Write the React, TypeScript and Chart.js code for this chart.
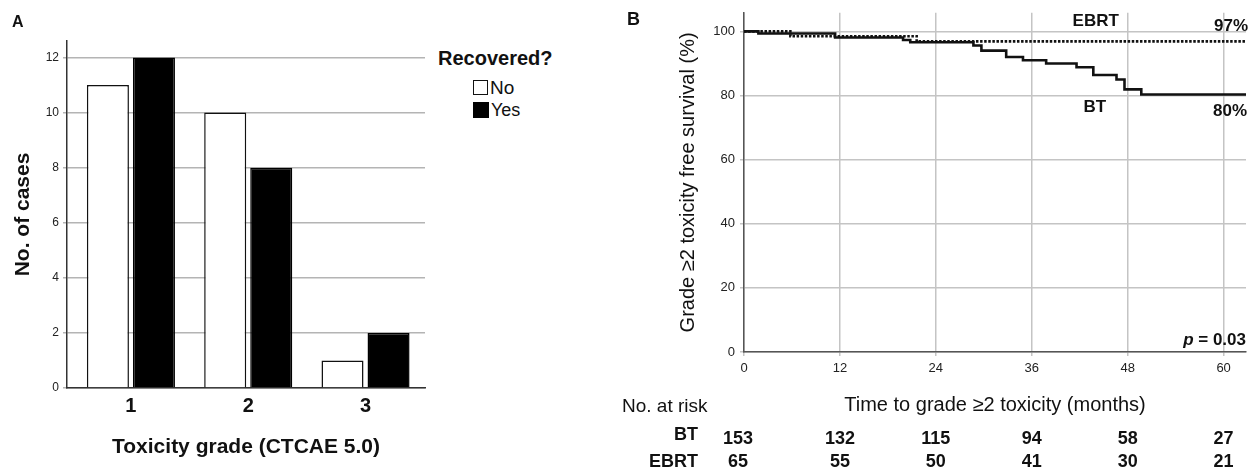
import React, { useEffect, useRef } from "react";
import { Chart, registerables } from "chart.js";

Chart.register(...registerables);

const FONT = '"Liberation Sans", Arial, Helvetica, sans-serif';

// ---------- Panel A data ----------
const gradeCategories = [1, 2, 3];
const notRecoveredCounts = [11, 10, 1];
const recoveredCounts = [12, 8, 2];
const countTicks = [0, 2, 4, 6, 8, 10, 12];

// ---------- Panel B data ----------
const btMonths = [0, 1.8, 11.4, 19.9, 20.8, 28.7, 29.7, 32.8, 34.9, 37.8, 41.6, 43.7, 46.6, 47.6, 49.7, 62.8];
const btSurvival = [100, 99.35, 98.1, 97.3, 96.6, 95.6, 94.0, 92.0, 91.0, 90.0, 88.8, 86.4, 85.0, 81.9, 80.3, 80.3];
const ebrtMonths = [0, 5.8, 21.6, 62.8];
const ebrtSurvival = [100, 98.5, 96.9, 96.9];
const monthTicks = [0, 12, 24, 36, 48, 60];
const survivalTicks = [0, 20, 40, 60, 80, 100];
const riskBT = [153, 132, 115, 94, 58, 27];
const riskEBRT = [65, 55, 50, 41, 30, 21];

type TextProps = {
  text: React.ReactNode;
  x: number;
  cy: number;
  size: number;
  weight?: string;
  align?: "left" | "right" | "center";
};

function Txt({ text, x, cy, size, weight = "normal", align = "left" }: TextProps) {
  const style: React.CSSProperties = {
    position: "absolute",
    top: cy - size * 0.6,
    fontFamily: FONT,
    fontSize: size,
    fontWeight: weight as any,
    lineHeight: 1.2,
    whiteSpace: "nowrap",
    color: "#111",
  };
  if (align === "left") style.left = x;
  else if (align === "right") style.right = 1250 - x;
  else {
    style.left = x;
    style.transform = "translateX(-50%)";
  }
  return <div style={style}>{text}</div>;
}

function BarPanel() {
  const ref = useRef<HTMLCanvasElement>(null);
  useEffect(() => {
    const chart = new Chart(ref.current as HTMLCanvasElement, {
      type: "bar",
      data: {
        datasets: [
          {
            label: "No",
            data: gradeCategories.map((g, i) => ({ x: g, y: notRecoveredCounts[i] })),
            backgroundColor: "#ffffff",
            borderColor: "#111111",
            borderWidth: 1.5,
            categoryPercentage: 0.785,
            barPercentage: 0.913,
          },
          {
            label: "Yes",
            data: gradeCategories.map((g, i) => ({ x: g, y: recoveredCounts[i] })),
            backgroundColor: "#000000",
            borderColor: "#000000",
            borderWidth: 1.5,
            categoryPercentage: 0.785,
            barPercentage: 0.913,
          },
        ],
      } as any,
      options: {
        responsive: false,
        animation: false,
        layout: { padding: { left: 0, top: 41, right: 5, bottom: 0 } },
        plugins: { legend: { display: false }, tooltip: { enabled: false } },
        scales: {
          x: {
            type: "linear",
            offset: false,
            min: 0.455,
            max: 3.507,
            afterBuildTicks: (ax: any) => {
              ax.ticks = gradeCategories.map((v) => ({ value: v }));
            },
            afterFit: (s: any) => {
              s.height = 85;
            },
            grid: { display: false, drawTicks: false },
            border: { color: "#333", width: 1.5 },
            ticks: {
              font: { family: FONT, size: 20, weight: "bold" },
              color: "#111",
              padding: 6,
              maxRotation: 0,
              callback: (v: any) => String(v),
            },
            title: {
              display: true,
              text: "Toxicity grade (CTCAE 5.0)",
              font: { family: FONT, size: 21, weight: "bold" },
              color: "#111",
              padding: { top: 0, bottom: 13 },
            },
          },
          y: {
            min: 0,
            max: 12.6,
            afterBuildTicks: (ax: any) => {
              ax.ticks = countTicks.map((v) => ({ value: v }));
            },
            afterFit: (s: any) => {
              s.width = 67;
            },
            grid: { color: "#b4b4b4", lineWidth: 1.5, tickLength: 4 },
            border: { color: "#333", width: 1.5 },
            ticks: {
              font: { family: FONT, size: 12 },
              color: "#222",
              padding: 4,
              callback: (v: any) => String(v),
            },
            title: {
              display: true,
              text: "No. of cases",
              font: { family: FONT, size: 21, weight: "bold" },
              color: "#111",
              padding: { top: 11, bottom: 0 },
            },
          },
        },
      } as any,
    });
    return () => chart.destroy();
  }, []);
  return (
    <canvas
      ref={ref}
      width={430}
      height={473}
      style={{ position: "absolute", left: 0, top: 0, width: 430, height: 473 }}
    />
  );
}

const survivalText = {
  id: "survivalText",
  afterDraw(chart: any) {
    const { ctx } = chart;
    const x = chart.scales.x;
    const y = chart.scales.y;
    ctx.save();
    ctx.fillStyle = "#111";
    ctx.textBaseline = "middle";
    const bold = (s: number) => `bold ${s}px ${FONT}`;

    // curve labels
    ctx.font = bold(17);
    ctx.textAlign = "center";
    ctx.fillText("EBRT", x.getPixelForValue(44), y.getPixelForValue(103.2));
    ctx.fillText("BT", x.getPixelForValue(43.9), y.getPixelForValue(76.3));
    ctx.textAlign = "right";
    ctx.fillText("97%", x.right + 2, y.getPixelForValue(101.5));
    ctx.fillText("80%", x.right + 1, y.getPixelForValue(75.1));

    // p value
    const rest = " = 0.03";
    ctx.font = bold(17);
    const wRest = ctx.measureText(rest).width;
    ctx.font = `italic bold 17px ${FONT}`;
    const wP = ctx.measureText("p").width;
    const py = y.getPixelForValue(3.7);
    ctx.textAlign = "left";
    ctx.fillText("p", x.right - wRest - wP, py);
    ctx.font = bold(17);
    ctx.fillText(rest, x.right - wRest, py);

    // number at risk table
    ctx.font = `19px ${FONT}`;
    ctx.textAlign = "left";
    ctx.fillText("No. at risk", 12, 407);
    ctx.font = bold(18);
    ctx.textAlign = "right";
    ctx.fillText("BT", 88, 435);
    ctx.fillText("EBRT", 88, 462);
    ctx.textAlign = "center";
    monthTicks.forEach((m, i) => {
      const px = x.getPixelForValue(m);
      ctx.fillText(String(riskBT[i]), px - (i === 0 ? 6 : 0), 439);
      ctx.fillText(String(riskEBRT[i]), px - (i === 0 ? 6 : 0), 462);
    });
    ctx.restore();
  },
};

function SurvivalPanel() {
  const ref = useRef<HTMLCanvasElement>(null);
  useEffect(() => {
    const chart = new Chart(ref.current as HTMLCanvasElement, {
      type: "line",
      data: {
        datasets: [
          {
            label: "BT",
            data: btMonths.map((m, i) => ({ x: m, y: btSurvival[i] })),
            borderColor: "#111",
            borderWidth: 2.6,
            stepped: "before",
            pointRadius: 0,
            fill: false,
          },
          {
            label: "EBRT",
            data: ebrtMonths.map((m, i) => ({ x: m, y: ebrtSurvival[i] })),
            borderColor: "#111",
            borderWidth: 2.6,
            borderDash: [2.5, 1.6],
            stepped: "before",
            pointRadius: 0,
            fill: false,
          },
        ],
      } as any,
      options: {
        responsive: false,
        animation: false,
        layout: { padding: { left: 0, top: 8, right: 4, bottom: 53 } },
        plugins: { legend: { display: false }, tooltip: { enabled: false } },
        scales: {
          x: {
            type: "linear",
            min: 0,
            max: 62.8,
            afterBuildTicks: (ax: any) => {
              ax.ticks = monthTicks.map((v) => ({ value: v }));
            },
            afterFit: (s: any) => {
              s.height = 68;
            },
            grid: { color: "#c4c4c4", lineWidth: 1.5, tickLength: 4 },
            border: { color: "#555", width: 1.5 },
            ticks: {
              font: { family: FONT, size: 13 },
              color: "#222",
              padding: 5,
              maxRotation: 0,
              callback: (v: any) => String(v),
            },
            title: {
              display: true,
              text: "Time to grade \u22652 toxicity (months)",
              font: { family: FONT, size: 20 },
              color: "#111",
              padding: { top: 0, bottom: 3 },
            },
          },
          y: {
            min: 0,
            max: 105.8,
            afterBuildTicks: (ax: any) => {
              ax.ticks = survivalTicks.map((v) => ({ value: v }));
            },
            afterFit: (s: any) => {
              s.width = 134;
            },
            grid: { color: "#c4c4c4", lineWidth: 1.5, tickLength: 4 },
            border: { color: "#555", width: 1.5 },
            ticks: {
              font: { family: FONT, size: 13 },
              color: "#222",
              padding: 5,
              callback: (v: any) => String(v),
            },
            title: {
              display: true,
              text: "Grade \u22652 toxicity free survival (%)",
              font: { family: FONT, size: 20 },
              color: "#111",
              padding: { top: 66, bottom: 0 },
            },
          },
        },
      } as any,
      plugins: [survivalText],
    });
    return () => chart.destroy();
  }, []);
  return (
    <canvas
      ref={ref}
      width={640}
      height={473}
      style={{ position: "absolute", left: 610, top: 0, width: 640, height: 473 }}
    />
  );
}

export default function App() {
  return (
    <div
      style={{
        position: "absolute",
        left: 0,
        top: 0,
        width: 1250,
        height: 473,
        overflow: "hidden",
        background: "#ffffff",
      }}
    >
      <BarPanel />
      <SurvivalPanel />
      <Txt text="A" x={12} cy={22} size={16} weight="bold" />
      <Txt text="B" x={627} cy={20} size={18} weight="bold" />
      {/* legend of panel A */}
      <Txt text="Recovered?" x={438} cy={58} size={20} weight="bold" />
      <div
        style={{
          position: "absolute",
          left: 473,
          top: 80,
          width: 13,
          height: 13,
          border: "1.5px solid #111",
          background: "#fff",
        }}
      />
      <Txt text="No" x={490} cy={88} size={19} />
      <div
        style={{
          position: "absolute",
          left: 473,
          top: 102,
          width: 16,
          height: 16,
          background: "#000",
        }}
      />
      <Txt text="Yes" x={491} cy={111} size={18} />
    </div>
  );
}
